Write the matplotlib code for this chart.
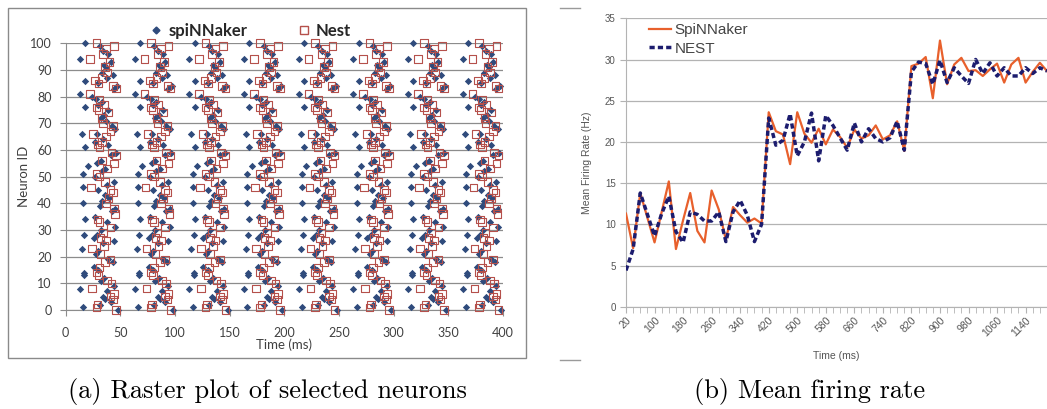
import numpy as np
import matplotlib
matplotlib.use("Agg")
import matplotlib.pyplot as plt
from matplotlib.lines import Line2D

# ---------------- Raster data: one firing cycle per simulator ----------------
# neuron id and spike time (ms) inside a cycle
spinn_ids = [100, 94, 86, 81, 76, 66, 61, 54, 51, 46, 40, 34, 28, 23, 14, 13, 8, 1,
             99, 97, 96, 93, 92, 91, 89, 88, 87, 85, 84, 83, 80, 79, 78, 77, 75, 73,
             72, 71, 69, 68, 66, 64, 63, 62, 59, 58, 56, 55, 53, 52, 50, 48, 47, 45,
             43, 42, 41, 39, 38, 37, 35, 33, 31, 30, 28, 27, 26, 25, 22, 21, 19, 18,
             16, 15, 12, 11, 9, 7, 5, 4, 3, 2, 0]
spinn_t = [18, 13, 18, 13, 18, 15, 18, 20, 16, 16, 16, 18, 17, 15, 17, 17, 13, 16,
           31, 34, 39, 41, 35, 37, 33, 43, 38, 30, 47, 44, 24, 28, 33, 30, 39, 35,
           32, 37, 42, 45, 29, 34, 27, 39, 46, 41, 32, 29, 36, 33, 27, 44, 38, 30,
           36, 40, 33, 31, 45, 42, 27, 38, 45, 32, 29, 26, 44, 34, 30, 28, 39, 43,
           26, 30, 35, 32, 44, 38, 34, 36, 41, 31, 48]
nest_ids = [100, 99, 98, 96, 94, 93, 91, 89, 87, 86, 85, 84, 83, 81, 79, 77, 76, 75,
            74, 72, 70, 69, 67, 66, 65, 63, 62, 61, 59, 58, 56, 55, 53, 51, 50, 48,
            46, 45, 44, 42, 40, 38, 36, 34, 33, 31, 29, 27, 26, 24, 23, 21, 19, 18,
            16, 14, 13, 11, 10, 8, 6, 5, 4, 2, 1, 0]
nest_t = [28, 44, 37, 34, 22, 40, 36, 38, 33, 27, 30, 43, 46, 22, 31, 35, 28, 30,
          39, 33, 34, 43, 41, 25, 37, 33, 29, 31, 42, 46, 33, 44, 38, 28, 31, 36,
          23, 41, 43, 39, 37, 44, 45, 29, 31, 41, 34, 32, 37, 35, 24, 32, 41, 36,
          31, 28, 30, 38, 42, 24, 44, 41, 43, 29, 28, 46]
cycle_starts = [0, 50, 100, 150, 200, 250, 300, 350]

# ---------------- Mean firing rate, sampled every 20 ms ----------------
rate_time = np.arange(20, 1201, 20)
spinn_rate = [11.3, 7.1, 13.8, 10.8, 7.8, 11.5, 15.2, 7.0, 10.5, 13.8,
              9.2, 7.8, 14.1, 11.8, 8.1, 12.1, 11.1, 10.2, 10.7, 10.1,
              23.6, 21.3, 20.9, 17.3, 23.6, 21.0, 19.9, 21.6, 19.7, 21.5,
              20.6, 19.3, 21.5, 20.4, 20.8, 22.0, 20.3, 20.8, 22.5, 18.9,
              29.2, 29.5, 30.3, 25.3, 32.3, 27.0, 29.4, 30.2, 28.6, 28.7,
              28.0, 28.8, 29.5, 27.2, 29.4, 30.2, 27.2, 28.5, 29.6, 28.6]
nest_rate = [4.4, 7.0, 13.8, 11.2, 8.6, 11.3, 13.4, 9.1, 7.8, 11.5,
             11.2, 10.4, 10.4, 11.5, 7.9, 11.5, 12.9, 11.1, 7.9, 10.0,
             22.9, 19.6, 20.2, 23.4, 18.3, 20.0, 23.5, 17.7, 23.2, 22.0,
             20.5, 19.0, 22.3, 20.0, 21.6, 20.4, 20.0, 20.5, 22.5, 19.0,
             28.5, 29.7, 29.5, 27.0, 29.9, 27.2, 29.0, 28.0, 27.1, 30.0,
             28.3, 29.6, 28.0, 29.0, 28.0, 28.0, 29.0, 28.3, 29.0, 28.6]
rate_ticks = np.arange(20, 1141, 80)

W, H = 1047, 409
fig = plt.figure(figsize=(W / 100, H / 100), dpi=100)
fig.patch.set_facecolor("white")


def fx(px):
    return px / W


def fy(py):
    return 1 - py / H


# ================= (a) raster =================
fig.add_artist(plt.Rectangle((fx(8), fy(358)), fx(518), (358 - 8) / H,
                             transform=fig.transFigure, fill=False,
                             edgecolor="#8a8a8a", linewidth=1.0))

axa = fig.add_axes([fx(65.7), fy(310), fx(503 - 65.7), (310 - 43.3) / H])
xs_s = np.concatenate([np.array(spinn_t) + c for c in cycle_starts])
ys_s = np.concatenate([np.array(spinn_ids) for _ in cycle_starts])
xs_n = np.concatenate([np.array(nest_t) + c for c in cycle_starts])
ys_n = np.concatenate([np.array(nest_ids) for _ in cycle_starts])
ms = xs_s <= 400
mn = xs_n <= 400

blue = "#2f4b7c"
red = "#b5504b"
axa.scatter(xs_s[ms], ys_s[ms], marker="D", s=14, color=blue, linewidths=0,
            clip_on=False, zorder=3)
axa.scatter(xs_n[mn], ys_n[mn], marker="s", s=30, facecolors="none",
            edgecolors=red, linewidths=0.8, clip_on=False, zorder=4)

axa.set_xlim(0, 400)
axa.set_ylim(0, 100)
axa.set_xticks(np.arange(0, 401, 50))
axa.set_yticks(np.arange(0, 101, 10))
axa.yaxis.grid(True, color="#8c8c8c", linewidth=0.9)
axa.set_axisbelow(True)
for s in ["top", "right"]:
    axa.spines[s].set_visible(False)
axa.spines["left"].set_color("#8c8c8c")
axa.spines["bottom"].set_color("#8c8c8c")
axa.tick_params(axis="both", colors="#8c8c8c", labelcolor="#404040",
                labelsize=9, length=4)
axa.tick_params(axis="y", pad=6)
axa.tick_params(axis="x", pad=8)
for lab in axa.get_xticklabels() + axa.get_yticklabels():
    lab.set_family("Lato")
axa.set_xlabel("Time (ms)", family="Lato", fontsize=9.5, color="#404040", labelpad=0)
axa.set_ylabel("Neuron ID", family="Lato", fontsize=9.5, color="#404040", labelpad=0)

handles_a = [Line2D([], [], marker="D", linestyle="none", color=blue, markersize=3.5),
             Line2D([], [], marker="s", linestyle="none", markerfacecolor="none",
                    markeredgecolor=red, markersize=5.5)]
axa.legend(handles_a, ["spiNNaker", "Nest"], loc="lower center",
           bbox_to_anchor=(0.42, 0.99), ncol=2, frameon=False,
           prop={"family": "Lato", "weight": "bold", "size": 12},
           handletextpad=0.2, columnspacing=2.9, handlelength=1.0,
           borderaxespad=0.0, labelcolor="#262626")

fig.text(fx(267), fy(398), "(a) Raster plot of selected neurons", family="cmr10",
         fontsize=19, ha="center", va="baseline")

# ================= (b) mean firing rate =================
for yy in (8, 360):
    fig.add_artist(Line2D([fx(560), fx(580)], [fy(yy), fy(yy)],
                          transform=fig.transFigure, color="#9a9a9a", linewidth=1))

x0 = 626
axb = fig.add_axes([fx(x0), fy(306.7), 1 - fx(x0), (306.7 - 18.3) / H])
axb.plot(rate_time, spinn_rate, color="#e8602c", linewidth=1.6, label="SpiNNaker",
         zorder=3)
axb.plot(rate_time, nest_rate, color="#1c1c6e", linewidth=2.5, dashes=(1.5, 0.9),
         label="NEST", zorder=4)
axb.set_xlim(20, 20 + (W - x0) / 7.2 * 20)
axb.set_ylim(0, 35)
axb.set_yticks(np.arange(0, 36, 5))
axb.set_xticks(rate_ticks)
axb.set_xticks(rate_time, minor=True)
axb.yaxis.grid(True, color="#b3b3b3", linewidth=0.9)
axb.set_axisbelow(True)
for s in ["top", "right"]:
    axb.spines[s].set_visible(False)
axb.spines["left"].set_color("#b3b3b3")
axb.spines["bottom"].set_color("#b3b3b3")
axb.tick_params(axis="both", which="both", colors="#b3b3b3", labelcolor="#555555",
                labelsize=7, length=4)
axb.tick_params(axis="x", which="major", pad=2, labelsize=7.5)
for lab in axb.get_xticklabels():
    lab.set_rotation(45)
    lab.set_ha("right")
    lab.set_rotation_mode("anchor")
    lab.set_family("Liberation Sans")
for lab in axb.get_yticklabels():
    lab.set_family("Liberation Sans")
axb.set_xlabel("Time (ms)", family="Liberation Sans", fontsize=7.5, color="#555555",
               labelpad=9)
axb.set_ylabel("Mean Firing Rate (Hz)", family="Liberation Sans", fontsize=7.5,
               color="#555555", labelpad=9)
axb.legend(loc="upper left", bbox_to_anchor=(0.03, 1.02), frameon=False,
           prop={"family": "Liberation Sans", "size": 11}, labelcolor="#444444",
           handlelength=1.4, handletextpad=0.25, labelspacing=0.3, borderaxespad=0.3)

fig.text(fx(810), fy(398), "(b) Mean firing rate", family="cmr10",
         fontsize=19, ha="center", va="baseline")

fig.savefig("out.png", dpi=100, facecolor="white")
